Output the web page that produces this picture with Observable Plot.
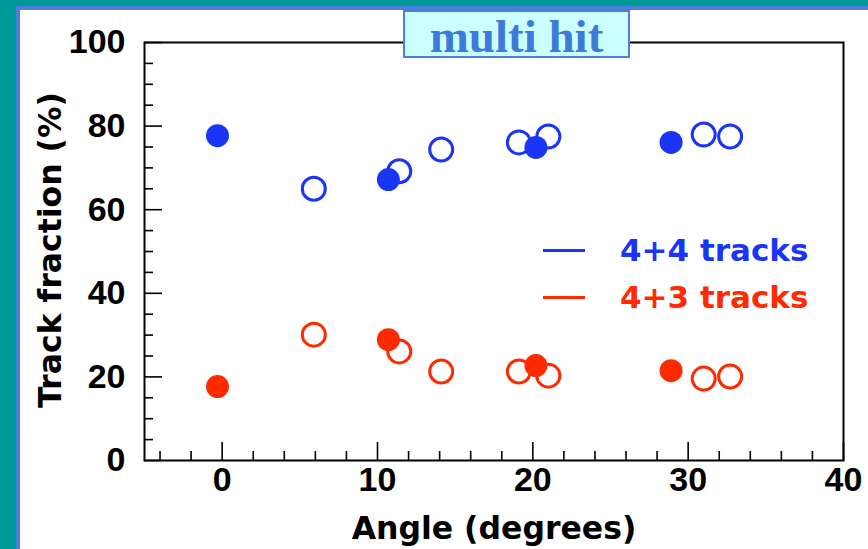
<!DOCTYPE html>
<html>
<head>
<meta charset="utf-8">
<script src="https://cdn.jsdelivr.net/npm/d3@7"></script>
<script src="https://cdn.jsdelivr.net/npm/@observablehq/plot@0.6"></script>
<style>
  html, body { margin: 0; padding: 0; background: #009999; }
  #wrap { position: relative; width: 868px; height: 549px; overflow: hidden; background: #009999; }
  #panel { position: absolute; left: 16px; top: 6px; width: 900px; height: 600px; background: #ffffff;
           border-left: 4px solid #4a7fdc; border-top: 4px solid #4a7fdc; }
  #chart { position: absolute; left: 0; top: 0; }
  #title { position: absolute; left: 403px; top: 10px; width: 223px; height: 44px; background: #ccffff;
           border: 2px solid #4a80dc; font: bold 47px "Liberation Serif", serif; color: #3d7bd8;
           text-align: center; line-height: 48px; white-space: nowrap; }
  .lab { position: absolute; font: bold 31.5px "DejaVu Sans", sans-serif; color: #000; line-height: 1; white-space: nowrap; }
  #xlab { left: 494px; top: 513px; transform: translateX(-50%); }
  #ylab { left: 51px; top: 250px; transform: translate(-50%, -50%) rotate(-90deg); }
  .leg { position: absolute; left: 543px; width: 42px; height: 3px; }
  .legt { position: absolute; left: 620px; font: bold 31px "DejaVu Sans", sans-serif; line-height: 1; white-space: nowrap; }
</style>
</head>
<body>
<div id="wrap">
  <div id="panel"></div>
  <div id="chart"></div>
  <div id="title">multi hit</div>
  <div class="lab" id="xlab">Angle (degrees)</div>
  <div class="lab" id="ylab">Track fraction (%)</div>
  <div id="legend"></div>
</div>
<script>
// ---- data ----
const seriesNames = ["4+4 tracks", "4+3 tracks"];
const seriesColors = ["#1a35f5", "#ff2a00"];

const angleOpen   = [5.9, 11.4, 14.1, 19.1, 21.0, 31.0, 32.7];
const frac44Open  = [65.0, 69.2, 74.4, 76.1, 77.5, 78.0, 77.5];
const frac43Open  = [30.1, 26.1, 21.3, 21.3, 20.3, 19.6, 20.1];

const angleFilled  = [-0.3, 10.7, 20.2, 28.9];
const frac44Filled = [77.7, 67.2, 74.9, 76.1];
const frac43Filled = [17.7, 28.9, 22.7, 21.5];

const xMajor = [0, 10, 20, 30, 40];
const xMinor = [-4, -2, 2, 4, 6, 8, 12, 14, 16, 18, 22, 24, 26, 28, 32, 34, 36, 38];
const yMajor = [0, 20, 40, 60, 80, 100];
const yMinor = [5, 10, 15, 25, 30, 35, 45, 50, 55, 65, 70, 75, 85, 90, 95];

// ---- tables ----
const openPts = [
  ...angleOpen.map((a, i) => ({angle: a, frac: frac44Open[i], s: seriesNames[0]})),
  ...angleOpen.map((a, i) => ({angle: a, frac: frac43Open[i], s: seriesNames[1]}))
];
const filledPts = [
  ...angleFilled.map((a, i) => ({angle: a, frac: frac44Filled[i], s: seriesNames[0]})),
  ...angleFilled.map((a, i) => ({angle: a, frac: frac43Filled[i], s: seriesNames[1]}))
];

const tickFont = {fontSize: 34, fontWeight: "bold", fontFamily: "Liberation Sans, Arial, sans-serif", fill: "#000"};

const chart = Plot.plot({
  width: 868,
  height: 549,
  marginLeft: 144,
  marginRight: 25,
  marginTop: 42,
  marginBottom: 89,
  style: {background: "transparent", overflow: "visible", color: "#000"},
  x: {domain: [-5, 40], label: null},
  y: {domain: [0, 100], label: null},
  color: {domain: seriesNames, range: seriesColors},
  marks: [
    // inward ticks
    Plot.axisX({ticks: xMinor, tickSize: 9, dy: -9, text: null, label: null, strokeWidth: 1.6}),
    Plot.axisX({ticks: xMajor, tickSize: 18, dy: -18, text: null, label: null, strokeWidth: 1.6}),
    Plot.axisY({ticks: yMinor, tickSize: 9, dx: 9, text: null, label: null, strokeWidth: 1.6}),
    Plot.axisY({ticks: yMajor, tickSize: 18, dx: 18, text: null, label: null, strokeWidth: 1.6}),
    // tick labels
    Plot.axisX({ticks: xMajor, tickSize: 0, tickPadding: 6, label: null, tickFormat: d => String(d), ...tickFont}),
    Plot.axisY({ticks: yMajor, tickSize: 0, tickPadding: 19, label: null, tickFormat: d => String(d), ...tickFont}),
    Plot.frame({stroke: "#000", strokeWidth: 2}),
    Plot.dot(openPts, {x: "angle", y: "frac", stroke: "s", r: 11.5, strokeWidth: 3, fill: "white", fillOpacity: 0}),
    Plot.dot(filledPts, {x: "angle", y: "frac", fill: "s", r: 11.5, stroke: null})
  ]
});
document.getElementById("chart").appendChild(chart);

// legend
const legend = document.getElementById("legend");
const legY = [250, 297];
seriesNames.forEach((name, i) => {
  const sw = document.createElement("div");
  sw.className = "leg";
  sw.style.top = (legY[i] - 1.5) + "px";
  sw.style.background = seriesColors[i];
  legend.appendChild(sw);
  const t = document.createElement("div");
  t.className = "legt";
  t.style.top = (legY[i] - 15) + "px";
  t.style.color = seriesColors[i];
  t.textContent = name;
  legend.appendChild(t);
});
</script>
</body>
</html>
